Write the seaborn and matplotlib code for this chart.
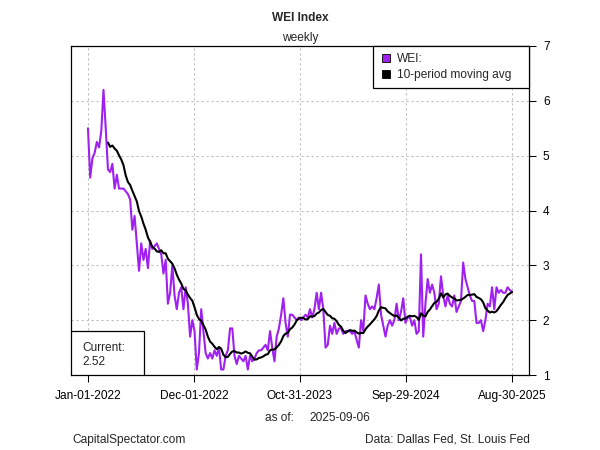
import numpy as np
import pandas as pd
import matplotlib
matplotlib.use("Agg")
import matplotlib.pyplot as plt
from matplotlib.lines import Line2D
from matplotlib.patches import Rectangle
import seaborn as sns

# ---------------- data ----------------
start_date = "2022-01-01"
wei_values = [
    5.50, 4.60, 4.95, 5.05, 5.25, 5.15, 5.45, 6.20, 5.50, 4.75,
    4.70, 4.85, 4.40, 4.65, 4.40, 4.40, 4.40, 4.35, 4.30, 4.20,
    3.65, 3.90, 3.40, 2.90, 3.40, 3.10, 3.30, 2.95, 3.45, 3.30,
    3.35, 3.40, 3.30, 3.20, 2.85, 3.10, 2.30, 2.50, 3.00, 2.45,
    2.20, 2.50, 2.60, 2.20, 2.60, 2.30, 1.70, 2.00, 1.80, 1.10,
    1.40, 2.20, 1.80, 1.40, 1.30, 1.40, 1.30, 1.45, 1.35, 1.50,
    1.10, 1.10, 1.35, 1.45, 1.85, 1.85, 1.35, 1.20, 1.35, 1.30,
    1.25, 1.35, 1.10, 1.35, 1.25, 1.30, 1.40, 1.45, 1.45, 1.50,
    1.55, 1.45, 1.80, 1.50, 1.25, 1.70, 1.85, 2.10, 2.40, 1.95,
    1.70, 2.10, 2.10, 2.05, 2.00, 2.05, 2.00, 2.05, 2.10, 2.05,
    2.20, 2.05, 2.20, 2.50, 2.20, 2.50, 2.20, 1.50, 1.55, 1.90,
    1.75, 1.95, 1.75, 1.85, 1.85, 1.75, 1.80, 1.80, 1.80, 1.75,
    1.80, 1.64, 1.50, 2.00, 1.80, 2.45, 2.30, 2.20, 2.25, 2.20,
    2.40, 2.65, 2.10, 1.90, 1.70, 1.90, 2.00, 1.90, 2.00, 2.30,
    2.00, 2.15, 2.40, 1.95, 2.05, 2.05, 1.90, 2.00, 1.75, 1.80,
    3.20, 1.70, 2.30, 2.75, 2.50, 2.65, 2.50, 2.20, 2.30, 2.80,
    2.45, 2.25, 2.45, 2.30, 2.25, 2.45, 2.15, 2.25, 2.35, 3.05,
    2.75, 2.60, 2.45, 2.35, 2.35, 1.95, 1.95, 2.00, 1.80, 2.00,
    2.30, 2.25, 2.60, 2.20, 2.60, 2.50, 2.55, 2.50, 2.50, 2.60,
    2.55, 2.52,
]
ma_window = 10
tick_dates = ["2022-01-01", "2022-12-01", "2023-10-31", "2024-09-29", "2025-08-30"]
tick_labels = ["Jan-01-2022", "Dec-01-2022", "Oct-31-2023", "Sep-29-2024", "Aug-30-2025"]
y_ticks = [1, 2, 3, 4, 5, 6, 7]
title_text = "WEI Index"
subtitle_text = "weekly"
as_of_label = "as of:"
as_of_date = "2025-09-06"
current_label = "Current:"
current_value = "2.52"
legend_labels = ["WEI:", "10-period moving avg"]
source_left = "CapitalSpectator.com"
source_right = "Data: Dallas Fed, St. Louis Fed"

# ---------------- frame ----------------
dates = pd.date_range(start_date, periods=len(wei_values), freq="7D")
df = pd.DataFrame({"date": dates, "WEI": wei_values})
df["MA"] = df["WEI"].rolling(ma_window).mean()

sns.set_theme(style="white")
plt.rcParams["font.family"] = ["Liberation Sans", "DejaVu Sans"]

PURPLE = "#A020F0"
FS = 8.6

fig = plt.figure(figsize=(6, 4.5), dpi=100)
W, H = 600, 450
L, R, T, B = 71, 529, 46, 375
ax = fig.add_axes([L / W, 1 - B / H, (R - L) / W, (B - T) / H])

sns.lineplot(data=df, x="date", y="WEI", color=PURPLE, lw=1.5, ax=ax,
             legend=False, zorder=3)
sns.lineplot(data=df.dropna(), x="date", y="MA", color="black", lw=1.5, ax=ax,
             legend=False, zorder=4)

# axes limits (4% extension on x, exact on y)
span = dates[-1] - dates[0]
ax.set_xlim(dates[0] - span * 0.04, dates[-1] + span * 0.04)
ax.set_ylim(y_ticks[0], y_ticks[-1])

ax.set_xticks(pd.to_datetime(tick_dates))
ax.set_xticklabels(tick_labels)
ax.set_yticks(y_ticks)
ax.set_yticklabels([str(v) for v in y_ticks])
ax.yaxis.tick_right()
ax.set_xlabel("")
ax.set_ylabel("")

ax.tick_params(axis="x", which="both", bottom=True, top=False, direction="out",
               length=5, width=0.75, pad=6, labelsize=FS, colors="black")
ax.tick_params(axis="y", which="both", left=False, right=True, direction="out",
               length=5, width=0.75, pad=5, labelsize=FS, colors="black")

ax.grid(True, color="#bebebe", linestyle=(0, (2, 2.5)), lw=0.8, zorder=0)
ax.set_axisbelow(True)
for s in ax.spines.values():
    s.set_visible(True)
    s.set_color("black")
    s.set_linewidth(0.9)
    s.set_zorder(6)

# legend
handles = [
    Line2D([], [], marker="s", linestyle="none", markersize=6,
           markerfacecolor=PURPLE, markeredgecolor="black", markeredgewidth=0.6),
    Line2D([], [], marker="s", linestyle="none", markersize=6,
           markerfacecolor="black", markeredgecolor="black", markeredgewidth=0.6),
]
lx0 = (373 - L) / (R - L)
leg = ax.legend(handles, legend_labels, loc="upper left",
                bbox_to_anchor=(lx0, 0, 1 - lx0, 1), mode="expand",
                borderaxespad=0, frameon=True, fancybox=False, edgecolor="black",
                framealpha=1, fontsize=FS, handlelength=1.0, handletextpad=0.4,
                borderpad=0.6, labelspacing=0.3)
leg.get_frame().set_linewidth(0.9)
leg.set_zorder(7)

# current value box
bw, bh = (144 - L) / (R - L), (B - 331) / (B - T)
ax.add_patch(Rectangle((0, 0), bw, bh, transform=ax.transAxes, facecolor="white",
                       edgecolor="black", lw=0.9, zorder=7))
ax.text((82 - L) / (R - L), (B - 348) / (B - T), current_label, transform=ax.transAxes,
        ha="left", va="center", fontsize=FS, zorder=8)
ax.text((82 - L) / (R - L), (B - 362) / (B - T), current_value, transform=ax.transAxes,
        ha="left", va="center", fontsize=FS, zorder=8)

# titles and notes
cx = (L + R) / 2 / W
fig.text(cx, 1 - 18 / H, title_text, ha="center", va="center", fontsize=FS,
         fontweight="bold")
fig.text(cx, 1 - 38 / H, subtitle_text, ha="center", va="center", fontsize=FS)
fig.text(265 / W, 1 - 418 / H, as_of_label, ha="left", va="center", fontsize=FS)
fig.text(309 / W, 1 - 418 / H, as_of_date, ha="left", va="center", fontsize=FS)
fig.text(72 / W, 1 - 440 / H, source_left, ha="left", va="center", fontsize=FS)
fig.text(530 / W, 1 - 440 / H, source_right, ha="right", va="center", fontsize=FS)

fig.savefig("out.png", dpi=100, facecolor="white")
